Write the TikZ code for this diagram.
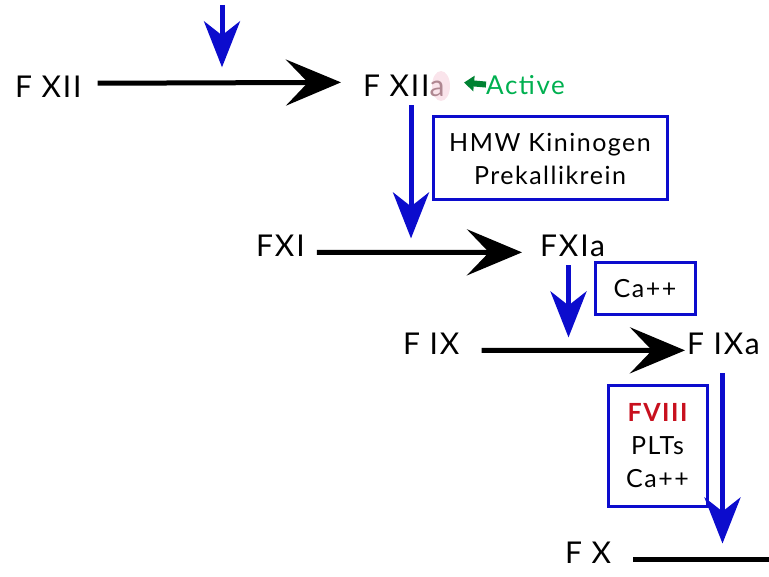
\documentclass[tikz,border=0pt]{standalone}
\usepackage{fontspec}
\setmainfont{Lato}[LetterSpace=6]
\usetikzlibrary{arrows.meta}
\definecolor{cblue}{RGB}{12,12,205}
\definecolor{cred}{RGB}{200,16,30}
\definecolor{cgreen}{RGB}{0,176,80}
\definecolor{cdkgreen}{RGB}{0,130,50}
\definecolor{cpinkbg}{RGB}{250,228,235}
\definecolor{cpinka}{RGB}{175,135,145}
\begin{document}
\begin{tikzpicture}[x=1pt,y=-1pt,
  lbl/.style={font=\fontsize{30}{32}\selectfont, inner sep=0pt, anchor=base west},
  conv/.style={line width=5pt, -{Stealth[length=55pt,width=46pt,inset=22pt]}},
  act/.style={draw=cblue, line width=5pt, -{Stealth[length=46pt,width=36pt,inset=14pt,fill=cblue]}},
  cofbox/.style={draw=cblue, line width=3pt, inner sep=0pt, align=center,
    font=\fontsize{25}{33}\selectfont}]
\useasboundingbox (0,0) rectangle (769,577);

% zymogens and active factors
\node[lbl] (fxii) at (15,98) {F XII};
\fill[cpinkbg] (441,86) ellipse (9pt and 15pt);
\node[lbl] (fxiia) at (363,97) {F XII\textcolor{cpinka}{a}};
\node[lbl] (fxi) at (256,257) {FXI};
\node[lbl] (fxia) at (540,257) {FXIa};
\node[lbl] (fix) at (403,355) {F IX};
\node[lbl] (fixa) at (687,355) {F IXa};
\node[lbl] (fx) at (565,563) {F X};

% "Active" note with its pointer
\node[font=\fontsize{26}{28}\selectfont, text=cgreen, inner sep=0pt, anchor=base west] (active) at (486,95) {Active};
\draw[cdkgreen, line width=6pt, -{Triangle[length=10pt,width=15pt]}] ([yshift=1pt]active.west) -- ++(-22,-2);

% cofactor boxes
\node[cofbox, minimum width=234pt, minimum height=83pt] (hmw) at (550,158.5) {HMW Kininogen\\Prekallikrein};
\node[cofbox, minimum width=100pt, minimum height=52pt] (ca) at (645,289) {Ca++};
\node[cofbox, minimum width=99pt, minimum height=120pt] (f8) at (657.5,446) {\textcolor{cred}{\bfseries FVIII}\\PLTs\\Ca++};

% conversion arrows
\draw[conv] ([xshift=16pt,yshift=4pt]fxii.east) -- ([xshift=-22pt,yshift=4pt]fxiia.west);
\draw[conv] ([xshift=12pt,yshift=-6pt]fxi.east) -- ([xshift=-18pt,yshift=-6pt]fxia.west);
\draw[conv] ([xshift=22pt,yshift=-6pt]fix.east) -- ([xshift=-2pt,yshift=-6pt]fixa.west);
\draw[line width=5pt] ([xshift=22pt,yshift=-7pt]fx.east) -- ++(150,0);

% activating arrows
\coordinate (top) at (222,5);
\draw[act] (top) -- ([yshift=9pt]top |- fxii.north);
\draw[act] ([xshift=48pt,yshift=-8pt]fxiia.south west) -- ++(0,133);
\draw[act] (ca.west |- fxia.south) ++(-25,8) -- ++(0,72);
\draw[act] (f8.north east) ++(14,-11) -- ++(0,170);
\end{tikzpicture}
\end{document}
